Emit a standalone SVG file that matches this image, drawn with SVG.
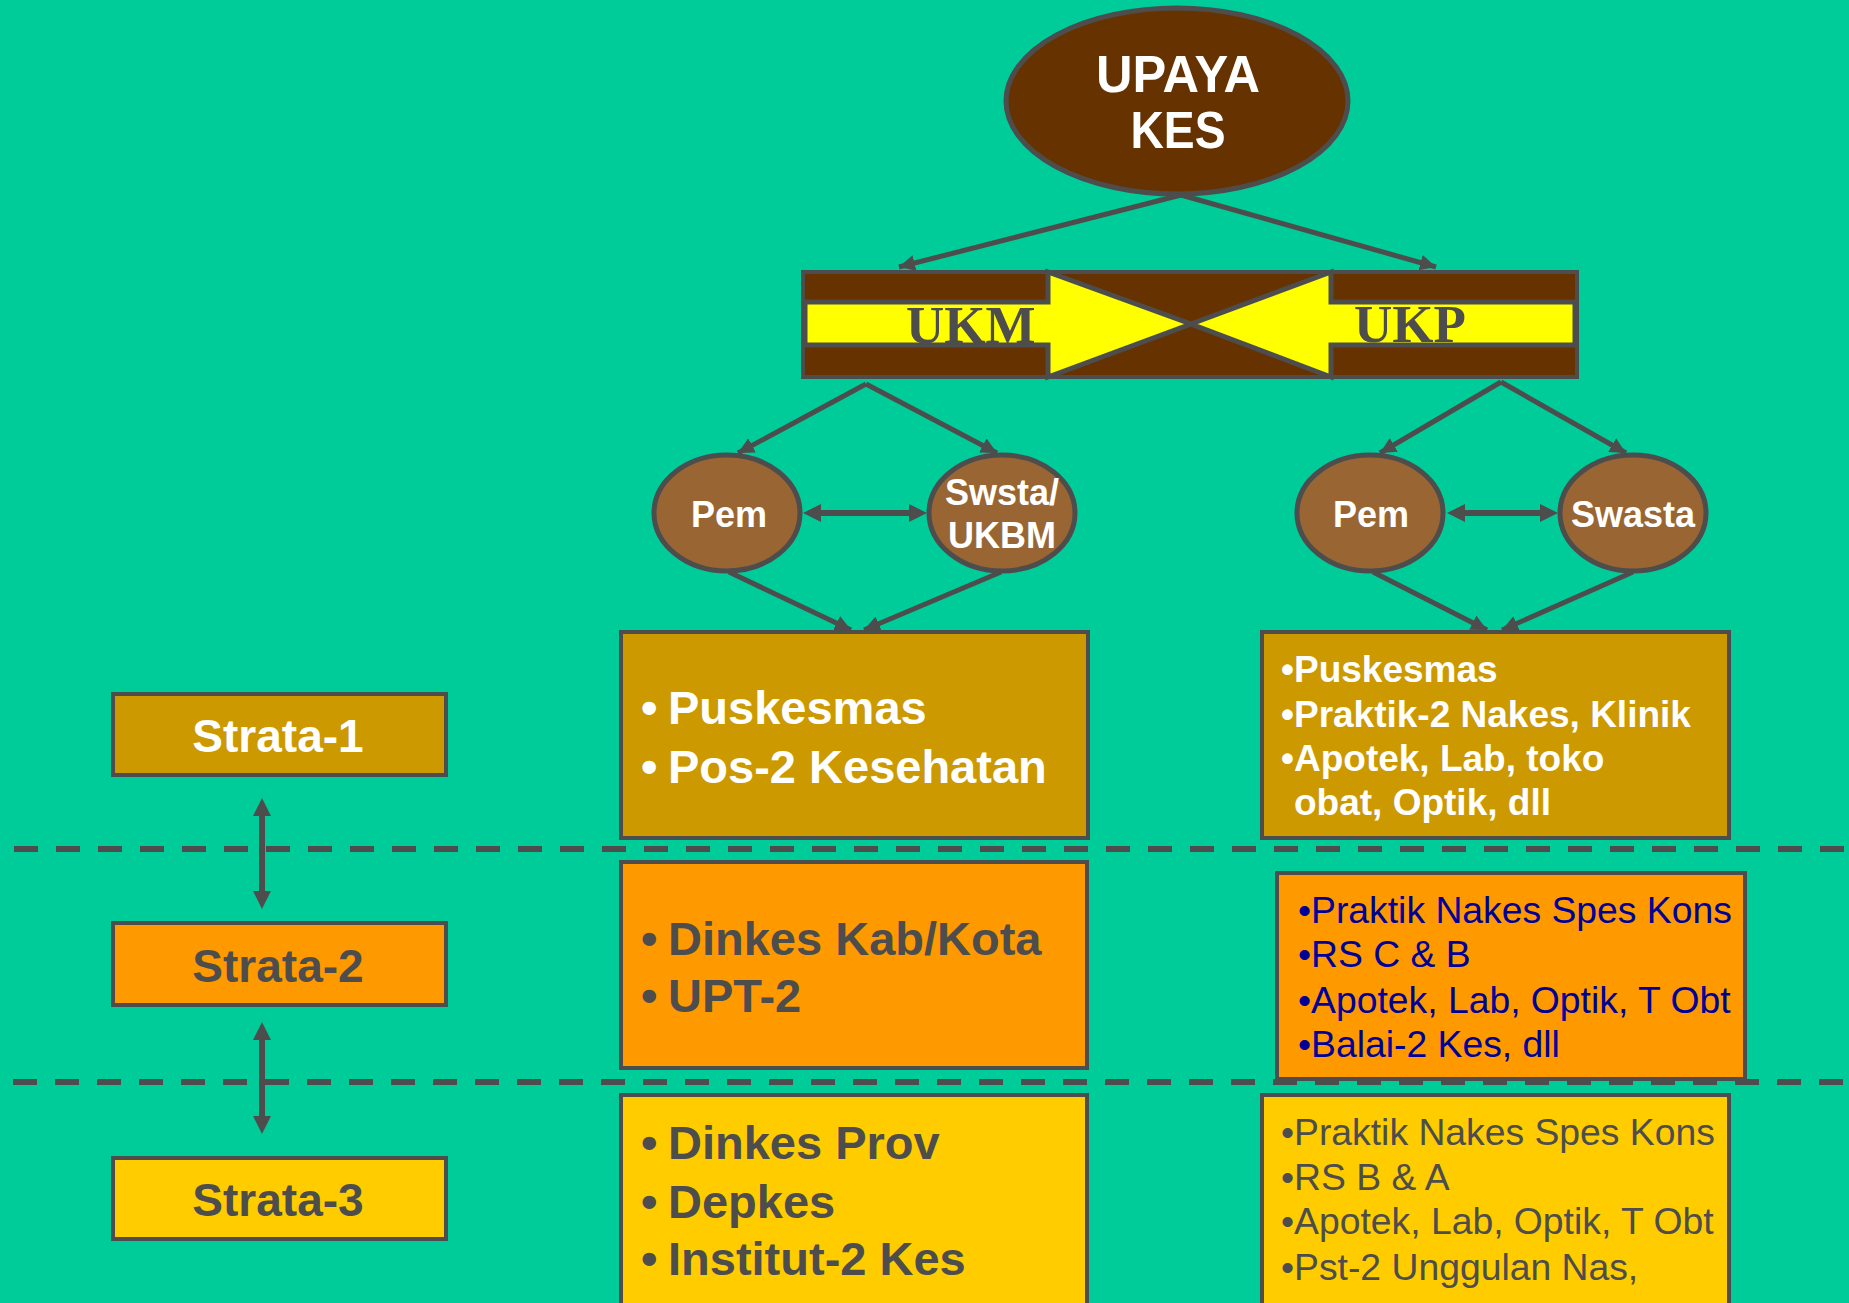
<svg xmlns="http://www.w3.org/2000/svg" width="1849" height="1303" viewBox="0 0 1849 1303">
<defs>
<style>
.t{font-family:"Liberation Sans",Arial,sans-serif;}
.b{font-weight:bold;}
.w{fill:#ffffff;}
.g{fill:#4d4d4d;}
.bl{fill:#000099;}
.box{stroke:#4d4d4d;stroke-width:4;}
.ell{stroke:#4d4d4d;stroke-width:5;}
.con{stroke:#4d4d4d;stroke-width:5;fill:none;}
.dbl{stroke:#4d4d4d;stroke-width:6;fill:none;}
.dash{stroke:#4d4d4d;stroke-width:6;stroke-dasharray:24 18;fill:none;}
</style>
<marker id="ah" markerUnits="userSpaceOnUse" markerWidth="18" markerHeight="18" refX="16" refY="8" orient="auto-start-reverse">
<path d="M0,0 L16,8 L0,16 z" fill="#4d4d4d"/>
</marker>
<marker id="ah2" markerUnits="userSpaceOnUse" markerWidth="20" markerHeight="20" refX="8" refY="9" orient="auto-start-reverse">
<path d="M0,0 L18,9 L0,18 z" fill="#4d4d4d"/>
</marker>
</defs>
<rect x="0" y="0" width="1849" height="1303" fill="#00CC99"/>

<g id="upaya">
<ellipse cx="1177" cy="101" rx="171" ry="93" fill="#663300" class="ell"/>
<text class="t b w" x="1178" y="92" font-size="52" text-anchor="middle" textLength="164" lengthAdjust="spacingAndGlyphs">UPAYA</text>
<text class="t b w" x="1178" y="148" font-size="52" text-anchor="middle" textLength="95" lengthAdjust="spacingAndGlyphs">KES</text>
</g>

<g id="bar">
<rect x="803" y="272" width="774" height="105" fill="#663300" class="box" stroke-width="5"/>
<polygon points="805,302 1048,302 1048,272 1191,324 1048,377 1048,345 805,345" fill="#FFFF00" stroke="#4d4d4d" stroke-width="5"/>
<polygon points="1575,302 1331,302 1331,272 1191,324 1331,377 1331,345 1575,345" fill="#FFFF00" stroke="#4d4d4d" stroke-width="5"/>
<rect x="803" y="272" width="774" height="105" fill="none" class="box" stroke-width="5"/>
<text x="906" y="343" font-family="'Liberation Serif','Times New Roman',serif" font-weight="bold" font-size="53" class="g">UKM</text>
<text x="1354" y="342" font-family="'Liberation Serif','Times New Roman',serif" font-weight="bold" font-size="53" class="g">UKP</text>
</g>

<g id="pem1">
<ellipse cx="727" cy="513" rx="73" ry="58" fill="#996633" class="ell"/>
<text class="t b w" x="729" y="527" font-size="36" text-anchor="middle">Pem</text>
</g>
<g id="swsta">
<ellipse cx="1002" cy="513" rx="73" ry="58" fill="#996633" class="ell"/>
<text class="t b w" x="1002" y="505" font-size="36" text-anchor="middle">Swsta/</text>
<text class="t b w" x="1002" y="548" font-size="36" text-anchor="middle">UKBM</text>
</g>
<g id="pem2">
<ellipse cx="1370" cy="513" rx="73" ry="58" fill="#996633" class="ell"/>
<text class="t b w" x="1371" y="527" font-size="36" text-anchor="middle">Pem</text>
</g>
<g id="swasta">
<ellipse cx="1633" cy="513" rx="73" ry="58" fill="#996633" class="ell"/>
<text class="t b w" x="1633" y="527" font-size="36" text-anchor="middle">Swasta</text>
</g>

<g id="box-l1">
<rect x="621" y="632" width="467" height="206" fill="#CC9900" class="box"/>
<text class="t b w" font-size="47"><tspan x="641" y="724">•</tspan><tspan x="668" y="724">Puskesmas</tspan><tspan x="641" y="783">•</tspan><tspan x="668" y="783">Pos-2 Kesehatan</tspan></text>
</g>
<g id="box-l2">
<rect x="621" y="862" width="466" height="206" fill="#FF9900" class="box"/>
<text class="t b g" font-size="47"><tspan x="641" y="955">•</tspan><tspan x="668" y="955">Dinkes Kab/Kota</tspan><tspan x="641" y="1012">•</tspan><tspan x="668" y="1012">UPT-2</tspan></text>
</g>
<g id="box-l3">
<rect x="621" y="1095" width="466" height="230" fill="#FFCC00" class="box"/>
<text class="t b g" font-size="47"><tspan x="641" y="1159">•</tspan><tspan x="668" y="1159">Dinkes Prov</tspan><tspan x="641" y="1218">•</tspan><tspan x="668" y="1218">Depkes</tspan><tspan x="641" y="1275">•</tspan><tspan x="668" y="1275">Institut-2 Kes</tspan></text>
</g>

<g id="box-r1">
<rect x="1262" y="632" width="467" height="206" fill="#CC9900" class="box"/>
<text class="t b w" font-size="37"><tspan x="1281" y="682">•Puskesmas</tspan><tspan x="1281" y="727">•Praktik-2 Nakes, Klinik</tspan><tspan x="1281" y="771">•Apotek, Lab, toko</tspan><tspan x="1294" y="815">obat, Optik, dll</tspan></text>
</g>
<g id="box-r2">
<rect x="1277" y="873" width="468" height="206" fill="#FF9900" class="box"/>
<text class="t bl" font-size="37.3"><tspan x="1298" y="923">•Praktik Nakes Spes Kons</tspan><tspan x="1298" y="967">•RS C &amp; B</tspan><tspan x="1298" y="1013">•Apotek, Lab, Optik, T Obt</tspan><tspan x="1298" y="1057">•Balai-2 Kes, dll</tspan></text>
</g>
<g id="box-r3">
<rect x="1262" y="1095" width="467" height="230" fill="#FFCC00" class="box"/>
<text class="t g" font-size="37.3"><tspan x="1281" y="1145">•Praktik Nakes Spes Kons</tspan><tspan x="1281" y="1190">•RS B &amp; A</tspan><tspan x="1281" y="1234">•Apotek, Lab, Optik, T Obt</tspan><tspan x="1281" y="1280">•Pst-2 Unggulan Nas,</tspan></text>
</g>

<g id="strata1">
<rect x="113" y="694" width="333" height="81" fill="#CC9900" class="box"/>
<text class="t b w" x="278" y="752" font-size="46" text-anchor="middle">Strata-1</text>
</g>
<g id="strata2">
<rect x="113" y="923" width="333" height="82" fill="#FF9900" class="box"/>
<text class="t b g" x="278" y="982" font-size="46" text-anchor="middle">Strata-2</text>
</g>
<g id="strata3">
<rect x="113" y="1158" width="333" height="81" fill="#FFCC00" class="box"/>
<text class="t b g" x="278" y="1216" font-size="46" text-anchor="middle">Strata-3</text>
</g>

<g id="dividers">
<line x1="14" y1="849" x2="1849" y2="849" class="dash"/>
<line x1="13" y1="1082" x2="1849" y2="1082" class="dash"/>
</g>

<g id="connectors">
<line x1="1181" y1="195" x2="899" y2="267" class="con" marker-end="url(#ah)"/>
<line x1="1181" y1="195" x2="1436" y2="267" class="con" marker-end="url(#ah)"/>
<line x1="866" y1="384" x2="738" y2="453" class="con" marker-end="url(#ah)"/>
<line x1="866" y1="384" x2="997" y2="453" class="con" marker-end="url(#ah)"/>
<line x1="1501" y1="382" x2="1380" y2="453" class="con" marker-end="url(#ah)"/>
<line x1="1501" y1="382" x2="1626" y2="453" class="con" marker-end="url(#ah)"/>
<line x1="729" y1="572" x2="851" y2="630" class="con" marker-end="url(#ah)"/>
<line x1="1001" y1="572" x2="864" y2="630" class="con" marker-end="url(#ah)"/>
<line x1="1373" y1="572" x2="1487" y2="630" class="con" marker-end="url(#ah)"/>
<line x1="1633" y1="572" x2="1502" y2="630" class="con" marker-end="url(#ah)"/>
<line x1="813" y1="513" x2="917" y2="513" class="dbl" marker-start="url(#ah2)" marker-end="url(#ah2)"/>
<line x1="1457" y1="513" x2="1548" y2="513" class="dbl" marker-start="url(#ah2)" marker-end="url(#ah2)"/>
<line x1="262" y1="808" x2="262" y2="899" class="dbl" marker-start="url(#ah2)" marker-end="url(#ah2)"/>
<line x1="262" y1="1032" x2="262" y2="1124" class="dbl" marker-start="url(#ah2)" marker-end="url(#ah2)"/>
</g>
</svg>
